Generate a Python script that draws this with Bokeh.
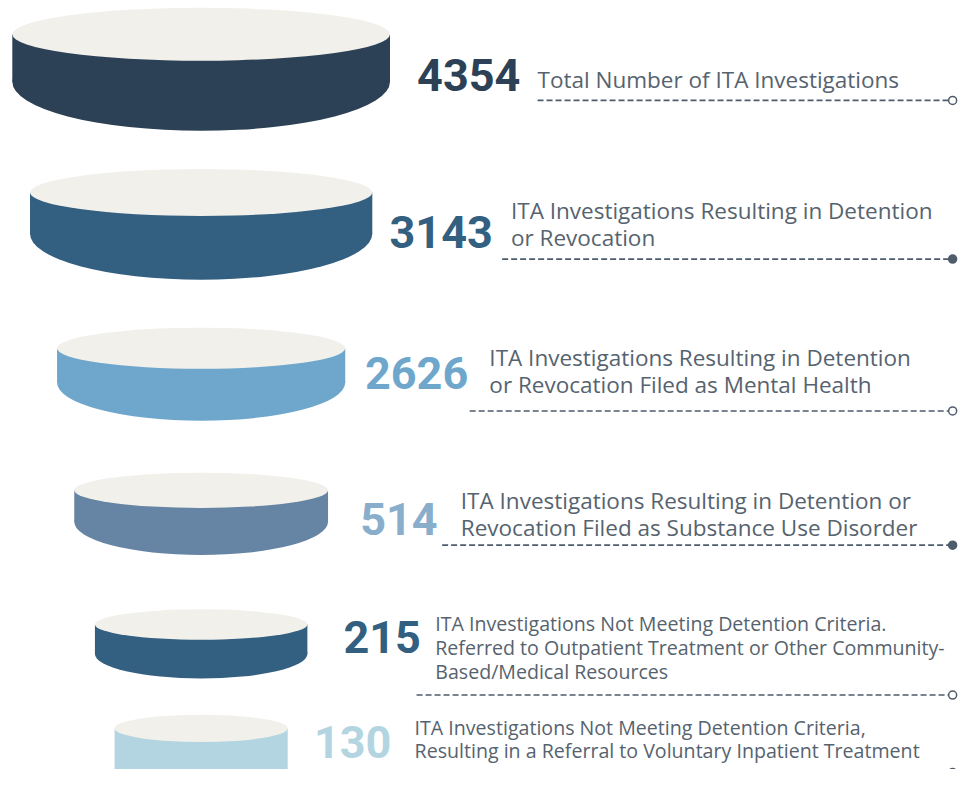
from bokeh.plotting import figure
from bokeh.models import Range1d
from bokeh.core.properties import value
from bokeh.embed import file_html
from bokeh.resources import INLINE

# ---- data ----
counts = [4354, 3143, 2626, 514, 215, 130]
labels = [
    ["Total Number of ITA Investigations"],
    ["ITA Investigations Resulting in Detention", "or Revocation"],
    ["ITA Investigations Resulting in Detention", "or Revocation Filed as Mental Health"],
    ["ITA Investigations Resulting in Detention or", "Revocation Filed as Substance Use Disorder"],
    ["ITA Investigations Not Meeting Detention Criteria.",
     "Referred to Outpatient Treatment or Other Community-",
     "Based/Medical Resources"],
    ["ITA Investigations Not Meeting Detention Criteria,",
     "Resulting in a Referral to Voluntary Inpatient Treatment"],
]

# ---- styles / layout (reference pixel space) ----
side_colors = ["#2c4155", "#335f80", "#6fa7cc", "#6684a3", "#335f80", "#b3d5e1"]
num_colors = ["#2c4155", "#335f80", "#6fa7cc", "#88aecb", "#335f80", "#b3d5e1"]
top_color = "#f1f0eb"
text_color = "#56636f"
rule_color = "#4f5c6b"

disk_cx = 204
disk_rx = [192, 174, 146.5, 129, 108, 88]
disk_top = [34.5, 196, 355, 500, 637, 743]
disk_ry_top = [27, 24, 21, 18, 15.5, 14]
disk_bot = [83, 238, 390, 532, 667, 800]
disk_ry_bot = [50, 47, 39, 34, 25, 25]

num_cx = [476, 448, 423, 405, 388, 358]
num_cap_mid = [76, 236.5, 380.5, 529.5, 650, 757]
lab_x = [546, 519, 497, 468, 442, 421]
lab_cap_mid = [81, 214, 364, 510, 636, 742.5]
lab_step = [28, 28, 28, 28, 24.5, 23.5]
lab_size = ["22.5px", "22.5px", "22.5px", "22.5px", "19.6px", "19.6px"]
rule_x0 = [546, 510, 477, 449, 423, 420]
rule_y = [102, 264, 419, 556, 709, 788]
rule_x1 = 968
rule_open = [True, False, True, False, True, True]

W, H = 960, 769
p = figure(width=W, height=H, output_backend="svg", toolbar_location=None,
           x_range=Range1d(0, 976), y_range=Range1d(785, 0),
           min_border=0, border_fill_color="white", background_fill_color="white")
p.axis.visible = False
p.grid.visible = False
p.outline_line_color = None

n = len(counts)
# bottom halves
p.ellipse(x=[disk_cx] * n, y=disk_bot, width=[2 * r for r in disk_rx],
          height=[2 * r for r in disk_ry_bot], fill_color=side_colors, line_color=None)
# sides
p.quad(left=[disk_cx - r for r in disk_rx], right=[disk_cx + r for r in disk_rx],
       top=disk_top, bottom=disk_bot, fill_color=side_colors, line_color=None)
# tops
p.ellipse(x=[disk_cx] * n, y=disk_top, width=[2 * r for r in disk_rx],
          height=[2 * r for r in disk_ry_top], fill_color=top_color, line_color=None)

# numbers
p.text(x=num_cx, y=num_cap_mid, text=[str(c) for c in counts], text_color=num_colors,
       text_font=value("Roboto"), text_font_style="bold", text_font_size="45px",
       text_align="center", text_baseline="middle")

# labels
for i in range(n):
    ys = [lab_cap_mid[i] + k * lab_step[i] for k in range(len(labels[i]))]
    p.text(x=[lab_x[i]] * len(ys), y=ys, text=labels[i], text_color=text_color,
           text_font=value("Open Sans"), text_font_size=lab_size[i],
           text_align="left", text_baseline="middle")

# dashed rules
p.segment(x0=rule_x0, y0=rule_y, x1=[rule_x1] * n, y1=rule_y,
          line_color=rule_color, line_width=1.6, line_dash="6 3")
p.scatter(x=[rule_x1] * n, y=rule_y, size=8, marker="circle",
          fill_color=["white" if o else rule_color for o in rule_open],
          line_color=rule_color, line_width=1.5)

open("out.html", "w").write(file_html(p, INLINE))
